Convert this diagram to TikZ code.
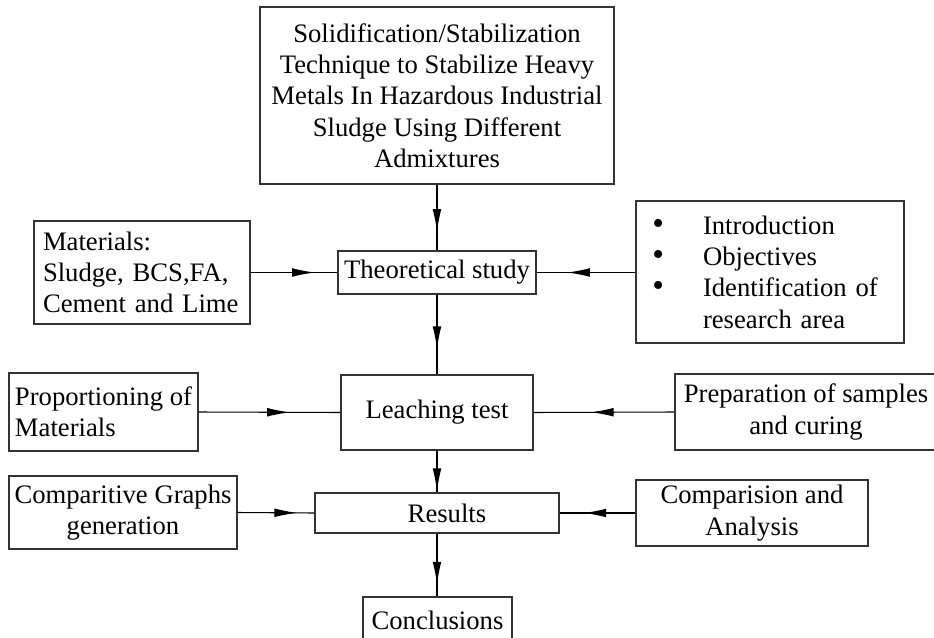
\documentclass[tikz,border=0pt]{standalone}
\usepackage{fontspec}
\setmainfont{Liberation Serif}
\usetikzlibrary{arrows.meta,decorations.markings}
\newcommand{\bigbul}{\makebox[39pt][l]{\hspace*{1pt}\fontsize{25}{25}\selectfont\textbullet}}
\begin{document}
\begin{tikzpicture}[x=0.75pt,y=-0.75pt,
  box/.style={draw=black!80, line width=0.8pt, inner sep=0pt,
    font=\fontsize{20}{23.5}\selectfont, align=center},
  conn/.style={draw=black, line width=0.8pt, postaction={decorate},
    decoration={markings, mark=at position #1 with {\arrow{Latex[length=17pt,width=6.5pt]}}}}
]
\useasboundingbox (0,0) rectangle (934,638);
\clip (0,0) rectangle (934,638);

\node[box, minimum width=354*0.75pt, minimum height=177*0.75pt] (top) at (437,95.5)
  {Solidification/Stabilization\\Technique to Stabilize Heavy\\Metals In Hazardous Industrial\\Sludge Using Different\\Admixtures};

\node[box, minimum width=198*0.75pt, minimum height=43*0.75pt] (theo) at (437,272.5) {Theoretical study};

\node[box, align=left, inner xsep=9*0.75pt, text width=198*0.75pt, minimum height=103*0.75pt] (mat) at (142,272.5)
  {Materials:\\Sludge, BCS,FA,\\Cement and Lime};

\node[box, align=left, inner xsep=15*0.75pt, text width=238*0.75pt, minimum height=142*0.75pt] (intro) at (770,272)
  {\bigbul Introduction\\
   \bigbul Objectives\\
   \bigbul Identification of\\
   \hspace*{39pt}research area};

\node[box, minimum width=192*0.75pt, minimum height=75*0.75pt] (leach) at (437,412.5) {Leaching test};

\node[box, align=left, minimum width=189*0.75pt, minimum height=78*0.75pt] (prop) at (103.5,412)
  {Proportioning of\\Materials};

\node[box, minimum width=262*0.75pt, minimum height=76*0.75pt] (prep) at (806,412)
  {Preparation of samples\\and curing};

\node[box, minimum width=244*0.75pt, minimum height=40*0.75pt] (res) at (437,513) {\hspace*{15pt}Results};

\node[box, minimum width=228*0.75pt, minimum height=73*0.75pt] (compg) at (123,512.5)
  {Comparitive Graphs\\generation};

\node[box, minimum width=232*0.75pt, minimum height=66*0.75pt] (compa) at (752,513)
  {Comparision and\\Analysis};

\node[box, minimum width=149*0.75pt, minimum height=46*0.75pt] (concl) at (437.5,620) {Conclusions};

% connectors
\draw[conn=-14pt] (top.south) -- (theo.north);
\draw[conn=-17pt] (mat.east) -- (theo.west);
\draw[conn=-23pt] (intro.west |- theo.east) -- (theo.east);
\draw[conn=-19pt] (theo.south) -- (leach.north);
\draw[conn=-38pt] (prop.east) -- (leach.west);
\draw[conn=-43pt] (prep.west) -- (leach.east);
\draw[conn=-1pt] (leach.south) -- (res.north);
\draw[conn=-13pt] (compg.east) -- (res.west);
\draw[conn=-18pt] (compa.west) -- (res.east);
\draw[conn=-9pt] (res.south) -- (concl.north -| res.south);
\end{tikzpicture}
\end{document}
